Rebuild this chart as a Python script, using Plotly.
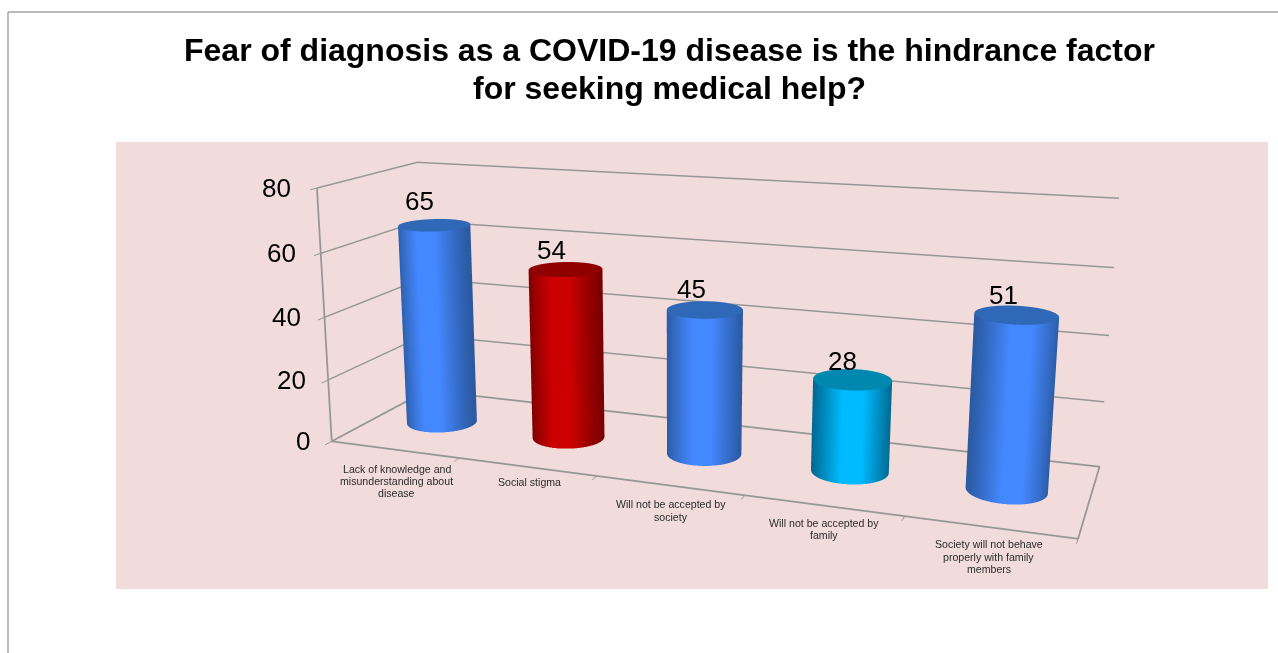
import numpy as np
import plotly.graph_objects as go

categories = ["Lack of knowledge and<br>misunderstanding about<br>disease", "Social stigma",
              "Will not be accepted by<br>society", "Will not be accepted by<br>family",
              "Society will not behave<br>properly with family<br>members"]
values = [65, 54, 45, 28, 51]
z_ticks = [0, 20, 40, 60, 80]
side_colors = ["#4488ff", "#cc0000", "#4488ff", "#00bbff", "#4488ff"]
edge_colors = ["#2b5aa2", "#7a0000", "#2b5aa2", "#00688f", "#2b5aa2"]
cap_colors = ["#3068b8", "#8f0000", "#3068b8", "#0088b0", "#3068b8"]
title_lines = ["Fear of diagnosis as a COVID-19 disease is the hindrance factor", "for seeking medical help?"]

W, H, OFF = 1278, 1243, 295
ax, ay = 2.8267, 0.7501
eye = dict(x=1.7826, y=-5.1252, z=1.3538)
center = dict(x=-0.2294, y=-0.086, z=-0.0012)
up = dict(x=-0.0842, y=0.2273, z=0.9702)
label_dx = [2, 2, 1, 1, -1]
label_dy = [-19, -15, -19, -17, -17]
value_dx = [-15, -14, -13, -10, -13]
value_dy = [24, 19, 21, 19, 20]
tick_dx = [-20, -20, -21, -23, -24]
n = len(categories)

rx = 0.25
ry = rx * (2 * ax / n) / (2 * ay)
phi0 = np.deg2rad(-75)
theta = np.linspace(0, 2 * np.pi, 145)
fig = go.Figure()
flat = dict(ambient=1, diffuse=0, specular=0, fresnel=0)
for i, v in enumerate(values):
    xc, yc = i + 0.5, 0.5
    X = np.array([xc + rx * np.cos(theta)] * 2)
    Y = np.array([yc + ry * np.sin(theta)] * 2)
    Z = np.array([np.zeros_like(theta), np.full_like(theta, v)])
    S = np.abs(np.sin(theta - phi0))
    S = np.array([S, S])
    cs = [[0, side_colors[i]], [0.25, side_colors[i]], [1, edge_colors[i]]]
    fig.add_trace(go.Surface(x=X, y=Y, z=Z, surfacecolor=S, cmin=0, cmax=1, colorscale=cs, showscale=False,
                             lighting=flat, hoverinfo="skip"))
    rr = np.array([0, 1.0])
    Xc = xc + np.outer(rr, rx * np.cos(theta))
    Yc = yc + np.outer(rr, ry * np.sin(theta))
    Zc = np.full_like(Xc, v)
    fig.add_trace(go.Surface(x=Xc, y=Yc, z=Zc, surfacecolor=np.zeros_like(Xc), cmin=0, cmax=1,
                             colorscale=[[0, cap_colors[i]], [1, cap_colors[i]]], showscale=False,
                             lighting=flat, hoverinfo="skip"))

zmax = z_ticks[-1]
line_col = "#969696"
fig.add_trace(go.Scatter3d(x=[0, n, n, 0, 0, 0], y=[0, 0, 1, 1, 0, 0], z=[0, 0, 0, 0, 0, zmax], mode="lines",
                           line=dict(color=line_col, width=3.5), hoverinfo="skip", showlegend=False))

ann = []
for i, (c_, v) in enumerate(zip(categories, values)):
    for j, line in enumerate(c_.split("<br>")):
        ann.append(dict(x=i + .5, y=0, z=0, text=line, showarrow=False, xanchor="center", yanchor="middle",
                        xshift=label_dx[i], yshift=label_dy[i] - 12.3 * j,
                        font=dict(family="Liberation Sans", size=10.6, color="#2a2a2a")))
    ann.append(dict(x=i + .5, y=.5, z=v, text=str(v), showarrow=False, xanchor="center", yanchor="middle",
                    xshift=value_dx[i], yshift=value_dy[i], font=dict(family="Liberation Sans", size=26, color="#000")))
for k, t in enumerate(z_ticks):
    ann.append(dict(x=0, y=0, z=t, text=str(t), showarrow=False, xanchor="right", yanchor="middle",
                    xshift=tick_dx[k], font=dict(family="Liberation Sans", size=26, color="#000")))

def py(px):
    return 1 - (px + OFF) / H

axis_common = dict(showbackground=False, showspikes=False, title="", zeroline=False, showline=False)
fig.update_layout(
    width=W, height=H, margin=dict(l=0, r=0, t=0, b=0), paper_bgcolor="white", showlegend=False,
    font=dict(family="Liberation Sans"),
    scene=dict(
        domain=dict(x=[0, 1], y=[0, 1]), bgcolor="rgba(0,0,0,0)",
        aspectmode="manual", aspectratio=dict(x=ax, y=ay, z=1),
        camera=dict(eye=eye, center=center, up=up),
        xaxis=dict(range=[0, n], tickvals=list(range(n + 1)), showgrid=False, showticklabels=False, ticks="outside",
                   ticklen=5, tickwidth=2, tickcolor=line_col, **axis_common),
        yaxis=dict(range=[0, 1], showgrid=False, showticklabels=False, ticks="", **axis_common),
        zaxis=dict(range=[0, zmax], tickvals=z_ticks, showgrid=True, gridcolor=line_col, gridwidth=3, showticklabels=False,
                   ticks="outside", ticklen=6, tickwidth=2, tickcolor=line_col, **axis_common),
        annotations=ann,
    ),
    shapes=[
        dict(type="rect", xref="paper", yref="paper", x0=116 / W, x1=1268 / W, y0=py(589), y1=py(142),
             fillcolor="#f2dcdb", line_width=0, layer="below"),
        dict(type="line", xref="paper", yref="paper", x0=8 / W, x1=8 / W, y0=py(700), y1=py(12), line=dict(color="#a6a6a6", width=1.5), layer="below"),
        dict(type="line", xref="paper", yref="paper", x0=8 / W, x1=1, y0=py(12), y1=py(12), line=dict(color="#a6a6a6", width=1.5), layer="below"),
    ],
    annotations=[
        dict(xref="paper", yref="paper", x=669.5 / W, y=py(50 + 38 * j), text="<b>%s</b>" % t, showarrow=False, xanchor="center", yanchor="middle",
             font=dict(family="Liberation Sans", size=32, color="#000")) for j, t in enumerate(title_lines)
    ],
)
fig.write_html("out.html", config=dict(displayModeBar=False),
               post_script="document.documentElement.style.overflow='hidden';document.body.style.margin='0';document.body.style.marginTop='-%dpx';" % OFF)
